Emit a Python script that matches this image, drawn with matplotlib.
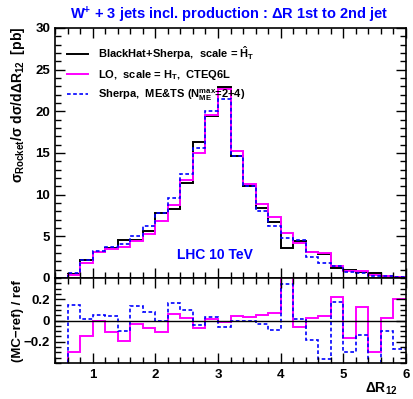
import numpy as np
import matplotlib
matplotlib.use("Agg")
import matplotlib.pyplot as plt
from matplotlib.ticker import MultipleLocator

plt.rcParams['font.family'] = ['Liberation Sans', 'DejaVu Sans']
plt.rcParams['font.weight'] = 'bold'
plt.rcParams['mathtext.fontset'] = 'custom'
plt.rcParams['mathtext.rm'] = 'Liberation Sans:bold'
plt.rcParams['mathtext.it'] = 'Liberation Sans:bold'
plt.rcParams['mathtext.bf'] = 'Liberation Sans:bold'

# ---- data ----
bin_edges = np.round(np.arange(0.4, 6.001, 0.2), 2)
blackhat = [0.05, 0.5, 2.2, 3.15, 3.55, 4.55, 4.55, 5.7, 7.75, 8.25, 11.45, 16.3, 19.45, 22.95,
            14.65, 11.05, 8.45, 6.75, 3.55, 4.45, 3.1, 2.85, 1.25, 1.0, 0.72, 0.6, 0.25, 0.1]
lo = [0.0, 0.35, 1.85, 3.1, 3.45, 3.7, 4.4, 5.3, 6.85, 8.8, 11.75, 15.05, 19.55, 22.65,
      15.3, 11.3, 8.85, 7.3, 5.45, 4.2, 3.15, 2.95, 1.5, 0.85, 0.8, 0.42, 0.26, 0.12]
sherpa = [0.0, 0.6, 2.2, 3.3, 3.7, 4.05, 5.05, 6.2, 7.75, 9.65, 12.45, 15.55, 20.0, 21.5,
          14.65, 11.05, 8.1, 6.25, 4.85, 4.55, 2.55, 1.85, 1.45, 0.7, 0.62, 0.3, 0.22, 0.07]

lo_ratio = [-1.0, -0.30, -0.15, -0.005, -0.105, -0.19, -0.03, -0.07, -0.11, 0.065, 0.025, -0.07,
            0.01, -0.01, 0.04, 0.03, 0.055, 0.07, 0.6, -0.06, 0.02, 0.04, 0.22, -0.16, 0.125,
            -0.30, 0.025, 0.2]
sherpa_ratio = [-1.0, 0.15, 0.015, 0.055, 0.045, -0.095, 0.14, 0.08, 0.0, 0.165, 0.095, -0.04,
                0.03, -0.06, -0.005, -0.005, -0.03, -0.085, 0.34, 0.015, -0.18, -0.36, 0.17,
                -0.30, -0.14, -0.6, -0.095, -0.27]

labels = ["BlackHat+Sherpa,  scale = $\\hat{H}_T$",
          "LO,  scale = H$_T$,  CTEQ6L",
          "Sherpa,  ME&TS (N$_{ME}^{max}$=2+4)"]

W, H = 413, 399
fig = plt.figure(figsize=(W / 100, H / 100), dpi=100)
ax = fig.add_axes([55 / W, 1 - 278 / H, 351 / W, 250 / H])
axr = fig.add_axes([55 / W, 1 - 363 / H, 351 / W, 85 / H])

ax.stairs(blackhat, bin_edges, color='black', lw=1.4, label=labels[0])
ax.stairs(lo, bin_edges, color='#ff00ff', lw=1.4, label=labels[1])
ax.stairs(sherpa, bin_edges, color='#0000ff', lw=1.2, ls=(0, (2.2, 1.5)), label=labels[2])

ax.set_xlim(0.4, 6.0)
ax.set_ylim(0, 30)
ax.yaxis.set_major_locator(MultipleLocator(5))
ax.yaxis.set_minor_locator(MultipleLocator(1))
ax.xaxis.set_major_locator(MultipleLocator(1))
ax.xaxis.set_minor_locator(MultipleLocator(0.2))
ax.tick_params(which='both', direction='in', top=True, right=True, labelbottom=False,
               labelsize=9.5, width=1)
ax.tick_params(which='major', length=7)
ax.tick_params(which='minor', length=4)
for s in ax.spines.values():
    s.set_linewidth(1.2)

leg = ax.legend(loc='upper left', bbox_to_anchor=(0.005, 0.975), frameon=False,
                prop={'size': 8, 'weight': 'bold'}, handlelength=1.9, handletextpad=0.9,
                labelspacing=0.55)

ax.text(0.456, 0.092, "LHC 10 TeV", transform=ax.transAxes, color='#0000ff',
        fontsize=10, fontweight='bold', ha='center', va='center')

axr.axhline(0, color='black', lw=1.0)
axr.stairs(lo_ratio, bin_edges, color='#ff00ff', lw=1.4, baseline=None)
axr.stairs(sherpa_ratio, bin_edges, color='#0000ff', lw=1.2, ls=(0, (2.2, 1.5)), baseline=None)
axr.set_xlim(0.4, 6.0)
axr.set_ylim(-0.4, 0.4)
axr.set_yticks([-0.2, 0, 0.2])
axr.set_yticklabels(['\u22120.2', '0', '0.2'])
axr.yaxis.set_minor_locator(MultipleLocator(0.05))
axr.xaxis.set_major_locator(MultipleLocator(1))
axr.xaxis.set_minor_locator(MultipleLocator(0.2))
axr.tick_params(which='both', direction='in', top=True, right=True, labelsize=9.5, width=1)
axr.tick_params(which='major', length=7)
axr.tick_params(which='minor', length=4)
axr.tick_params(axis='x', pad=4)
for s in axr.spines.values():
    s.set_linewidth(1.2)

fig.text((77 + 382) / 2 / W, 1 - 15 / H,
         "W$^{+}$ + 3 jets incl. production : \u0394R 1st to 2nd jet",
         color='#0000ff', fontsize=10.5, fontweight='bold', ha='center', va='center')
fig.text(18 / W, 1 - 27 / H,
         "$\\sigma_{Rocket}/\\sigma\\ d\\sigma/d\\Delta R_{12}$  [pb]",
         rotation=90, ha='center', va='top', fontsize=10)
fig.text(18 / W, 1 - 321 / H, "(MC\u2212ref) / ref", rotation=90, ha='center',
         va='center', fontsize=9.5, fontweight='bold')
fig.text(398 / W, 1 - 389 / H, "\u0394R$_{12}$", ha='right', va='center', fontsize=10,
         fontweight='bold')

fig.savefig("out.png", dpi=100)
